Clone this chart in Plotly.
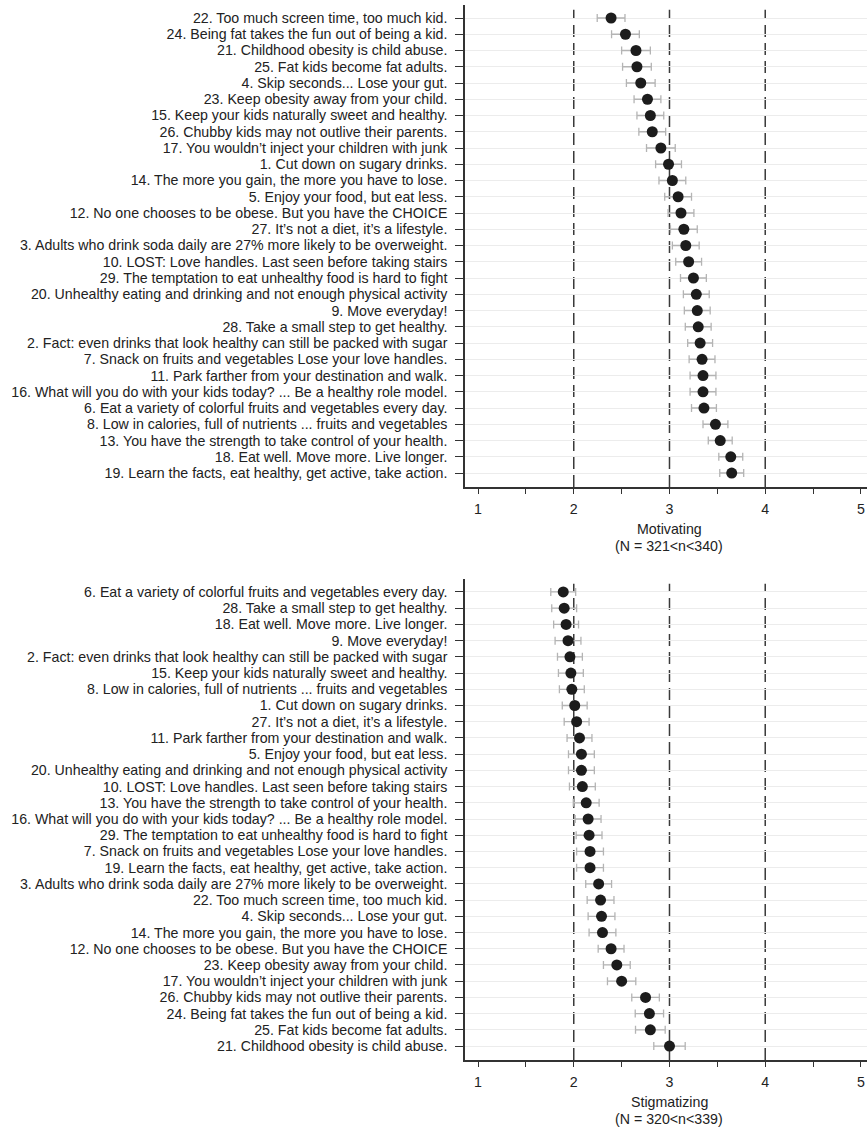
import plotly.graph_objects as go

mot_labels = [
    "22. Too much screen time, too much kid.",
    "24. Being fat takes the fun out of being a kid.",
    "21. Childhood obesity is child abuse.",
    "25. Fat kids become fat adults.",
    "4. Skip seconds... Lose your gut.",
    "23. Keep obesity away from your child.",
    "15. Keep your kids naturally sweet and healthy.",
    "26. Chubby kids may not outlive their parents.",
    "17. You wouldn’t inject your children with junk",
    "1. Cut down on sugary drinks.",
    "14. The more you gain, the more you have to lose.",
    "5. Enjoy your food, but eat less.",
    "12. No one chooses to be obese. But you have the CHOICE",
    "27. It’s not a diet, it’s a lifestyle.",
    "3. Adults who drink soda daily are 27% more likely to be overweight.",
    "10. LOST: Love handles. Last seen before taking stairs",
    "29. The temptation to eat unhealthy food is hard to fight",
    "20. Unhealthy eating and drinking and not enough physical activity",
    "9. Move everyday!",
    "28. Take a small step to get healthy.",
    "2. Fact: even drinks that look healthy can still be packed with sugar",
    "7. Snack on fruits and vegetables Lose your love handles.",
    "11. Park farther from your destination and walk.",
    "16. What will you do with your kids today? ... Be a healthy role model.",
    "6. Eat a variety of colorful fruits and vegetables every day.",
    "8. Low in calories, full of nutrients ... fruits and vegetables",
    "13. You have the strength to take control of your health.",
    "18. Eat well. Move more. Live longer.",
    "19. Learn the facts, eat healthy, get active, take action.",
]
mot_means = [2.39, 2.54, 2.65, 2.66, 2.70, 2.77, 2.80, 2.82, 2.91, 2.99,
             3.03, 3.09, 3.12, 3.15, 3.17, 3.20, 3.25, 3.28, 3.29, 3.30,
             3.32, 3.34, 3.35, 3.35, 3.36, 3.48, 3.53, 3.64, 3.65]
mot_err = [0.145, 0.145, 0.15, 0.15, 0.15, 0.14, 0.14, 0.14, 0.15, 0.135,
           0.14, 0.14, 0.135, 0.14, 0.14, 0.135, 0.135, 0.135, 0.135, 0.135,
           0.13, 0.135, 0.135, 0.135, 0.13, 0.13, 0.125, 0.125, 0.125]

stig_labels = [
    "6. Eat a variety of colorful fruits and vegetables every day.",
    "28. Take a small step to get healthy.",
    "18. Eat well. Move more. Live longer.",
    "9. Move everyday!",
    "2. Fact: even drinks that look healthy can still be packed with sugar",
    "15. Keep your kids naturally sweet and healthy.",
    "8. Low in calories, full of nutrients ... fruits and vegetables",
    "1. Cut down on sugary drinks.",
    "27. It’s not a diet, it’s a lifestyle.",
    "11. Park farther from your destination and walk.",
    "5. Enjoy your food, but eat less.",
    "20. Unhealthy eating and drinking and not enough physical activity",
    "10. LOST: Love handles. Last seen before taking stairs",
    "13. You have the strength to take control of your health.",
    "16. What will you do with your kids today? ... Be a healthy role model.",
    "29. The temptation to eat unhealthy food is hard to fight",
    "7. Snack on fruits and vegetables Lose your love handles.",
    "19. Learn the facts, eat healthy, get active, take action.",
    "3. Adults who drink soda daily are 27% more likely to be overweight.",
    "22. Too much screen time, too much kid.",
    "4. Skip seconds... Lose your gut.",
    "14. The more you gain, the more you have to lose.",
    "12. No one chooses to be obese. But you have the CHOICE",
    "23. Keep obesity away from your child.",
    "17. You wouldn’t inject your children with junk",
    "26. Chubby kids may not outlive their parents.",
    "24. Being fat takes the fun out of being a kid.",
    "25. Fat kids become fat adults.",
    "21. Childhood obesity is child abuse.",
]
stig_means = [1.89, 1.90, 1.92, 1.94, 1.96, 1.97, 1.98, 2.01, 2.03, 2.06,
              2.08, 2.08, 2.09, 2.13, 2.15, 2.16, 2.17, 2.17, 2.26, 2.28,
              2.29, 2.30, 2.39, 2.45, 2.50, 2.75, 2.79, 2.80, 3.00]
stig_err = [0.13, 0.13, 0.13, 0.135, 0.13, 0.13, 0.13, 0.13, 0.13, 0.13,
            0.135, 0.135, 0.135, 0.135, 0.135, 0.135, 0.14, 0.14, 0.135, 0.14,
            0.14, 0.14, 0.135, 0.14, 0.148, 0.144, 0.148, 0.155, 0.164]

x_tickvals = [1, 1.5, 2, 2.5, 3, 3.5, 4, 4.5, 5]
x_ticktext = ["1", "", "2", "", "3", "", "4", "", "5"]
ref_lines = [2, 3, 4]
titles = [("Motivating", "(N = 321&lt;n&lt;340)"), ("Stigmatizing", "(N = 320&lt;n&lt;339)")]

W, H = 867, 1127
FONT = "Liberation Sans, Arial, Helvetica, sans-serif"
FS = 14.2
TXT = "#222222"
AX = "#333333"

fig = go.Figure()

panels = [
    (mot_labels, mot_means, mot_err, "x", "y", (5, 487)),
    (stig_labels, stig_means, stig_err, "x2", "y2", (579, 1060)),
]

for labels, means, errs, xa, ya, _ in panels:
    fig.add_trace(go.Scatter(
        x=means, y=labels, xaxis=xa, yaxis=ya, mode="markers",
        marker=dict(color="#1c1c1c", size=11, line=dict(width=0)),
        error_x=dict(type="data", array=errs, color="#b4b4b4", thickness=1.3, width=4),
        showlegend=False, hoverinfo="x+y",
    ))

layout = dict(
    width=W, height=H,
    margin=dict(l=465, r=0, t=0, b=0),
    paper_bgcolor="white", plot_bgcolor="white",
    font=dict(family=FONT, size=FS, color=TXT),
    showlegend=False,
)

domains = {}
for i, (labels, means, errs, xa, ya, (top, bot)) in enumerate(panels):
    xk = "xaxis" if xa == "x" else "xaxis2"
    yk = "yaxis" if ya == "y" else "yaxis2"
    dom = [1 - bot / H, 1 - top / H]
    domains[ya] = dom
    n = len(labels)
    layout[xk] = dict(
        domain=[0, 1], anchor=ya, range=[0.864, 5.063],
        tickmode="array", tickvals=x_tickvals, ticktext=x_ticktext,
        ticks="outside", ticklen=5, tickwidth=1.2, tickcolor=AX,
        showline=True, linecolor=AX, linewidth=1.5,
        showgrid=False, zeroline=False,
        ticklabelstandoff=3,
        tickfont=dict(family=FONT, size=FS, color=TXT),
        fixedrange=True,
    )
    layout[yk] = dict(
        domain=dom, anchor=xa, type="category",
        categoryorder="array", categoryarray=labels,
        tickmode="array", tickvals=labels, ticktext=labels,
        range=[n - 1 + 0.86, -0.8],
        ticks="outside", ticklen=8, tickwidth=1.2, tickcolor=AX,
        showline=True, linecolor=AX, linewidth=1.5,
        showgrid=True, gridcolor="#ececec", gridwidth=1,
        zeroline=False, automargin=False,
        ticklabelstandoff=5,
        tickfont=dict(family=FONT, size=FS, color=TXT),
        fixedrange=True,
    )

fig.update_layout(**layout)

shapes = []
for labels, means, errs, xa, ya, _ in panels:
    d0, d1 = domains[ya]
    for v in ref_lines:
        shapes.append(dict(
            type="line", xref=xa, yref="paper", x0=v, x1=v,
            y0=d0, y1=d0 + 0.99 * (d1 - d0),
            line=dict(color="#3a3a3a", width=1.5, dash="12px,6px"), layer="below",
        ))
fig.update_layout(shapes=shapes)

annots = []
title_pos = [(529, 546), (1102, 1119)]
for i, ((t1, t2), (y1, y2)) in enumerate(zip(titles, title_pos)):
    xa = "x" if i == 0 else "x2"
    for txt, yp in ((t1, y1), (t2, y2)):
        annots.append(dict(
            text=txt, xref=xa, yref="paper", x=3, y=1 - yp / H,
            xanchor="center", yanchor="middle", showarrow=False,
            font=dict(family=FONT, size=FS, color=TXT),
        ))
fig.update_layout(annotations=annots)

fig.write_html("out.html", config={"displayModeBar": False},
               post_script="document.body.style.margin='0';")
